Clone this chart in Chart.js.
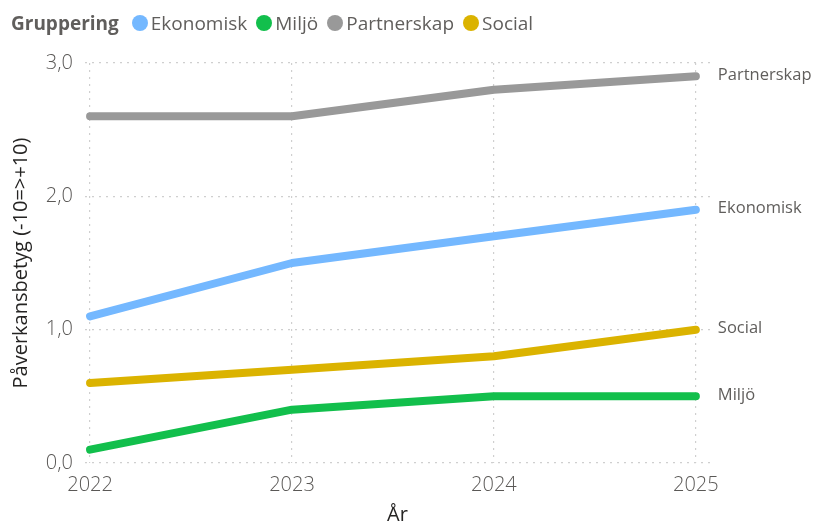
<!DOCTYPE html>
<html lang="sv">
<head>
  <meta charset="UTF-8">
  <title>Påverkansbetyg per år</title>
  <style>
    body {
      margin: 0;
      padding: 0;
      background: #fff;
      font-family: 'Open Sans', 'Noto Sans', sans-serif;
    }
    .wrap {
      position: relative;
      width: 814px;
      height: 527px;
    }
    /* legenden ligger ovanpå diagrammet, som i Power BI */
    .legend {
      position: absolute;
      left: 11px;
      top: 10px;
      display: flex;
      align-items: center;
      font-size: 19px;
      color: #605E5C;
      white-space: nowrap;
    }
    .legend .title {
      font-weight: bold;
      margin-right: 13px;
    }
    .legend .item {
      display: flex;
      align-items: center;
      margin-right: 9px;
    }
    .legend .dot {
      width: 16px;
      height: 16px;
      border-radius: 50%;
      margin-right: 3px;
    }
    canvas {
      position: absolute;
      left: 0;
      top: 0;
    }
  </style>
  <script src="https://cdn.jsdelivr.net/npm/chart.js"></script>
</head>
<body>
  <div class="wrap">
    <canvas id="chart" width="814" height="527"></canvas>
    <div class="legend" id="legend"></div>
  </div>

  <script>
    // Data
    const years = [2022, 2023, 2024, 2025];
    const seriesNames = ["Ekonomisk", "Miljö", "Partnerskap", "Social"];
    const seriesColors = ["#74B8FF", "#12BF4C", "#999999", "#DBB300"];
    const ekonomisk = [1.1, 1.5, 1.7, 1.9];
    const miljo = [0.1, 0.4, 0.5, 0.5];
    const partnerskap = [2.6, 2.6, 2.8, 2.9];
    const social = [0.6, 0.7, 0.8, 1.0];
    const yTicks = [0, 1, 2, 3];
    const seriesValues = [ekonomisk, miljo, partnerskap, social];

    const legendTitle = "Gruppering";
    const xTitle = "År";
    const yTitle = "Påverkansbetyg (-10=>+10)";

    // HTML-legend
    const legendElem = document.getElementById('legend');
    let legendHTML = '<span class="title">' + legendTitle + '</span>';
    seriesNames.forEach((name, i) => {
      legendHTML += '<span class="item"><span class="dot" style="background:' + seriesColors[i] + '"></span>' + name + '</span>';
    });
    legendElem.innerHTML = legendHTML;

    // Etiketter vid linjernas slut
    const endLabels = {
      id: 'endLabels',
      afterDatasetsDraw(chart) {
        const ctx = chart.ctx;
        const xs = chart.scales.x;
        const ys = chart.scales.y;
        ctx.save();
        ctx.font = '16.5px "Open Sans", sans-serif';
        ctx.fillStyle = '#605E5C';
        ctx.textBaseline = 'middle';
        chart.data.datasets.forEach(ds => {
          const last = ds.data[ds.data.length - 1];
          ctx.fillText(ds.label, xs.getPixelForValue(last.x) + 22, ys.getPixelForValue(last.y) - 1);
        });
        ctx.restore();
      }
    };

    const gridStyle = {
      color: '#CFCFCF',
      lineWidth: 1.2,
      tickLength: 0,
      drawTicks: false
    };

    new Chart(document.getElementById('chart').getContext('2d'), {
      type: 'line',
      data: {
        datasets: seriesNames.map((name, i) => ({
          label: name,
          data: years.map((yr, j) => ({ x: yr, y: seriesValues[i][j] })),
          borderColor: seriesColors[i],
          backgroundColor: seriesColors[i],
          borderWidth: 8,
          borderCapStyle: 'round',
          borderJoinStyle: 'round',
          pointRadius: 0,
          tension: 0
        }))
      },
      options: {
        responsive: false,
        animation: false,
        layout: {
          padding: { top: 63, right: 104, left: 0, bottom: 0 }
        },
        plugins: {
          legend: { display: false },
          tooltip: { enabled: false }
        },
        scales: {
          x: {
            type: 'linear',
            min: 2021.975,
            max: 2025.07,
            afterBuildTicks: scale => {
              scale.ticks = years.map(v => ({ value: v }));
            },
            afterFit: scale => { scale.height = 64; },
            ticks: {
              callback: v => String(v),
              color: '#5A5856',
              padding: 10,
              font: { family: 'Open Sans', size: 20, weight: 300 }
            },
            grid: gridStyle,
            border: { display: false, dash: [2, 5] },
            title: {
              display: true,
              text: xTitle,
              color: '#252423',
              padding: { top: 0, bottom: 0 },
              font: { family: 'Open Sans', size: 20 }
            }
          },
          y: {
            min: 0,
            max: 3,
            afterBuildTicks: scale => {
              scale.ticks = yTicks.map(v => ({ value: v }));
            },
            afterFit: scale => { scale.width = 85; },
            ticks: {
              callback: v => v.toFixed(1).replace('.', ','),
              color: '#5A5856',
              padding: 12,
              font: { family: 'Open Sans', size: 20, weight: 300 }
            },
            grid: gridStyle,
            border: { display: false, dash: [2, 5] },
            title: {
              display: true,
              text: yTitle,
              color: '#252423',
              padding: { top: 9, bottom: 0 },
              font: { family: 'Open Sans', size: 20 }
            }
          }
        }
      },
      plugins: [endLabels]
    });
  </script>
</body>
</html>
